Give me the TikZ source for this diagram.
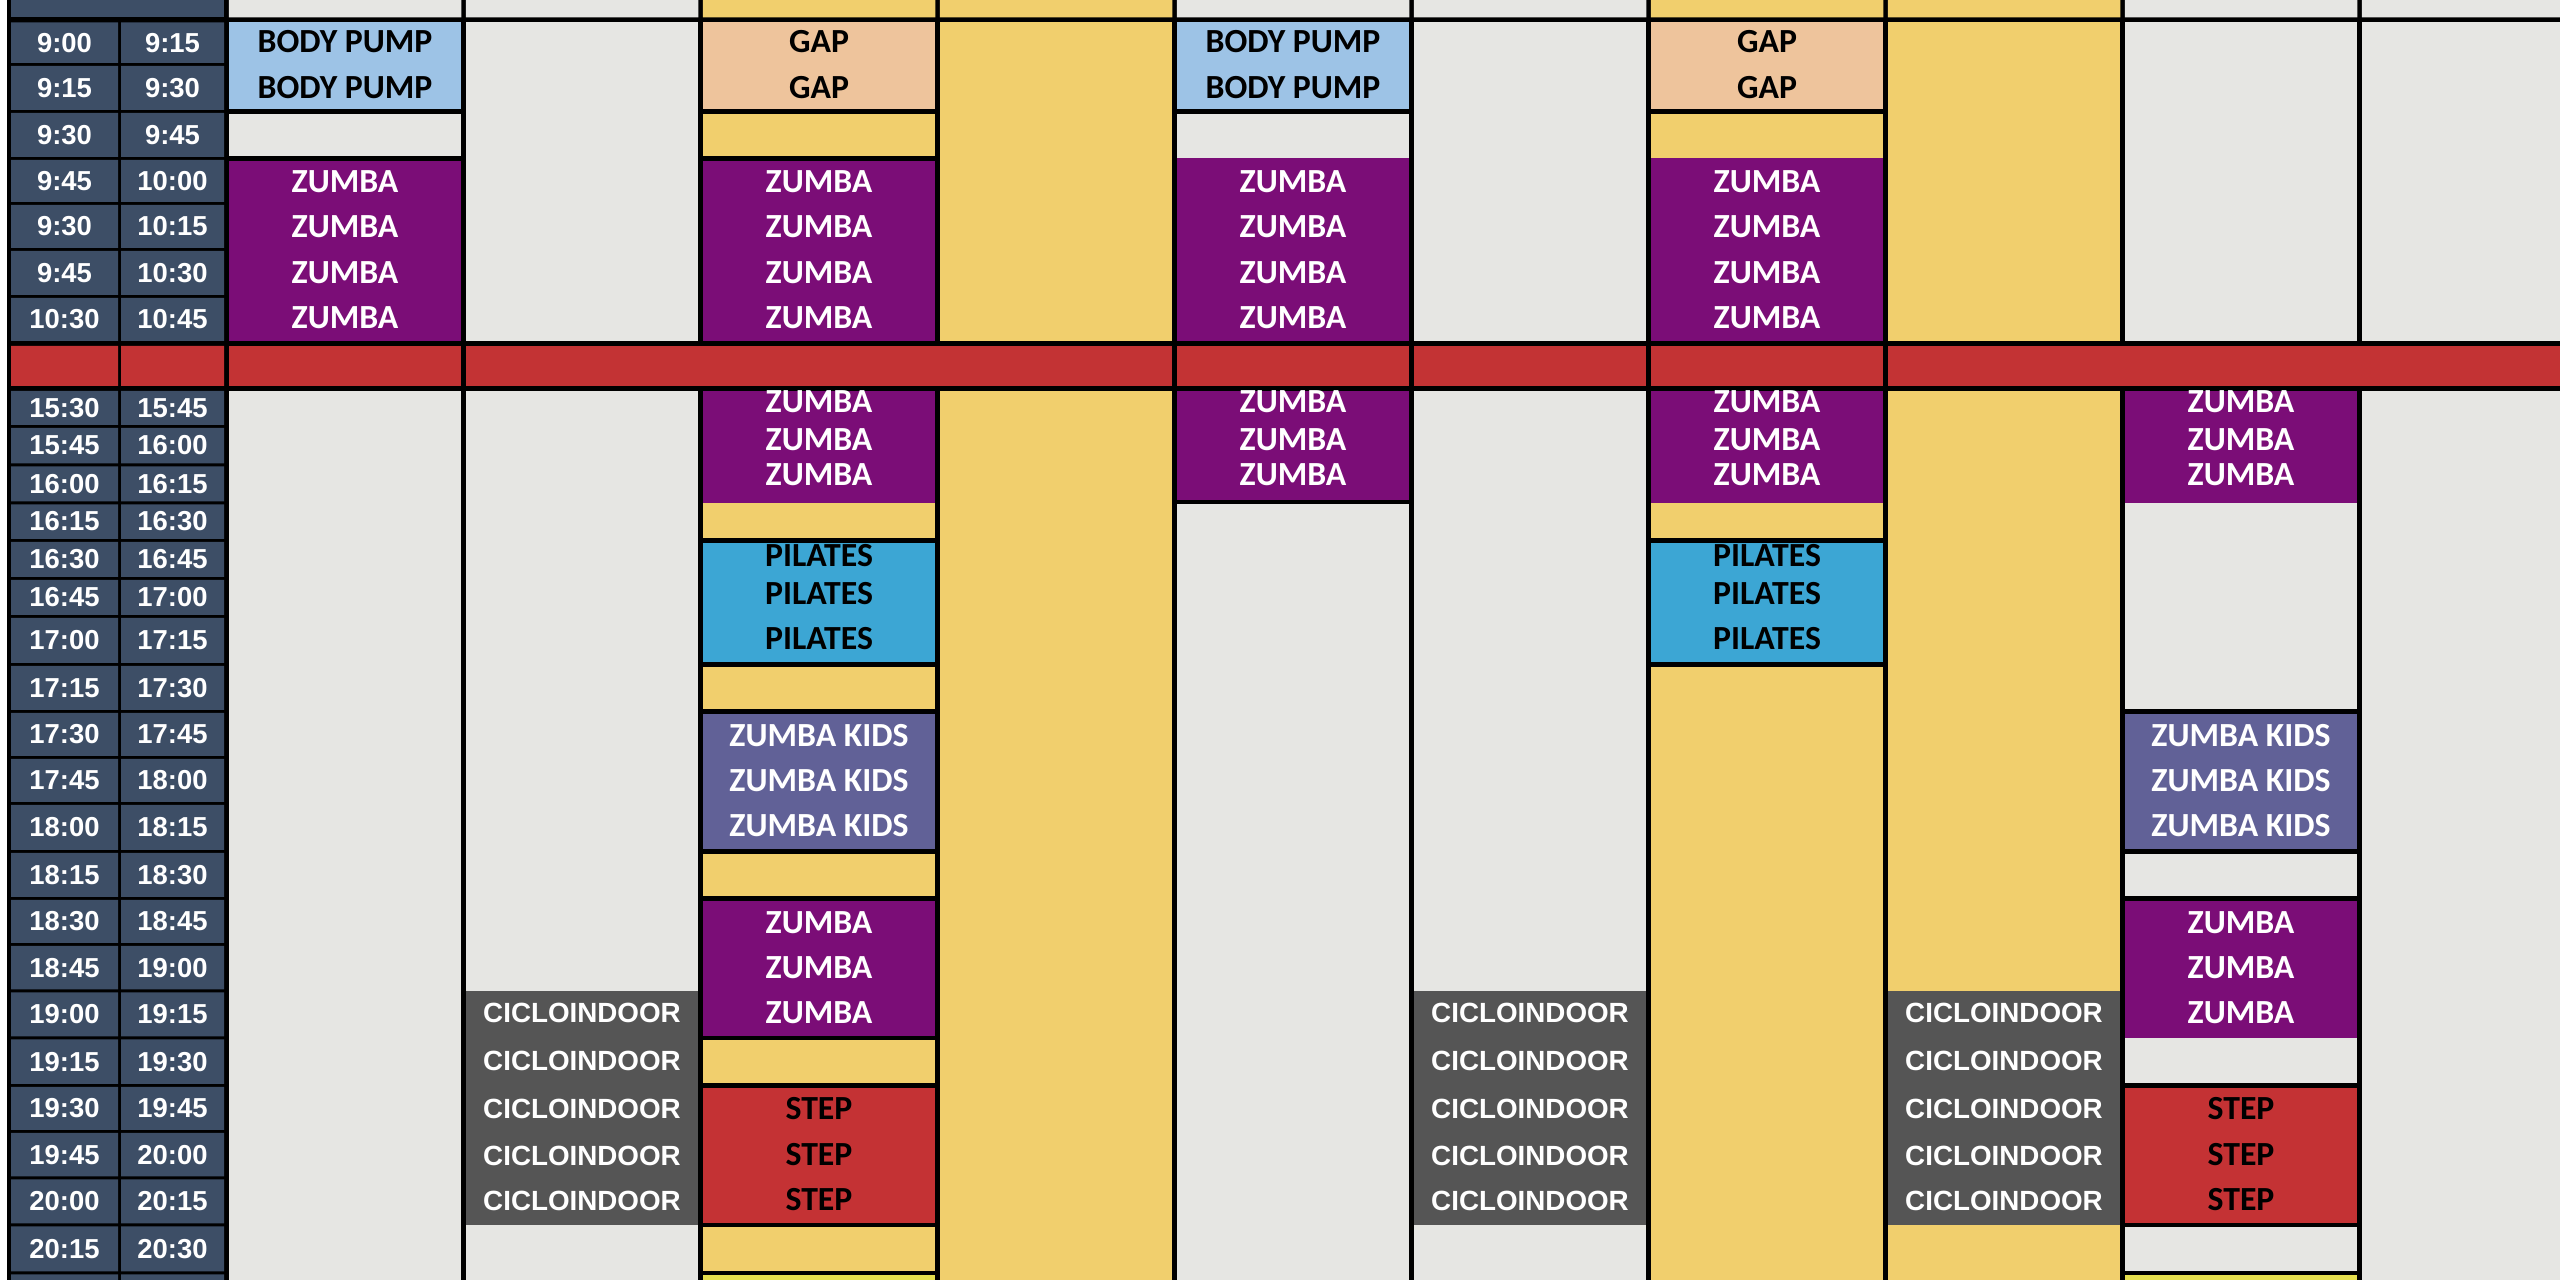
\documentclass[tikz,border=0pt]{standalone}
\usepackage{fontspec}
\setmainfont{Carlito}
\newfontfamily\hourfont{Liberation Sans}
\definecolor{hourblue}{HTML}{3D4E66}
\definecolor{roomgrey}{HTML}{E6E6E3}
\definecolor{roomyellow}{HTML}{F1CF6D}
\definecolor{zumbapurple}{HTML}{7B0D77}
\definecolor{pumpblue}{HTML}{9DC3E6}
\definecolor{gappeach}{HTML}{EEC49C}
\definecolor{pilatesblue}{HTML}{3CA6D4}
\definecolor{kidsviolet}{HTML}{616197}
\definecolor{ciclogrey}{HTML}{555555}
\definecolor{stepred}{HTML}{C43234}
\definecolor{breakred}{HTML}{C33334}
\definecolor{lastyellow}{HTML}{E6DF4E}

\begin{document}
\begin{tikzpicture}[x=0.01cm,y=-0.01cm,
    hour/.style={inner sep=0pt,text=white,font=\hourfont\bfseries\fontsize{7.8}{9}\selectfont},
    ciclo/.style={inner sep=0pt,text=white,font=\hourfont\bfseries\fontsize{7.9}{9}\selectfont},
    lesson/.style={inner sep=0pt,font=\bfseries\fontsize{9.6}{11}\selectfont},
    dark lesson/.style={lesson,text=black},
    light lesson/.style={lesson,text=white},
    sep/.style={draw=black,line width=0.045cm}]
\useasboundingbox (0,0) rectangle (2560,1280);
\fill[black] (0,0) rectangle (2560,1280);
\fill[white] (0,0) rectangle (7,1280);

\fill[hourblue] (11,0) rectangle (224,17.5);
\fill[roomgrey] (228.75,0) rectangle (461.25,17.5) (465.75,0) rectangle (698.25,17.5);
\fill[roomyellow] (702.75,0) rectangle (935.25,17.5) (939.75,0) rectangle (1172.25,17.5);
\fill[roomgrey] (1176.75,0) rectangle (1409.25,17.5) (1413.75,0) rectangle (1646.25,17.5);
\fill[roomyellow] (1650.75,0) rectangle (1883.25,17.5) (1887.75,0) rectangle (2120.25,17.5);
\fill[roomgrey] (2124.75,0) rectangle (2357.25,17.5) (2361.75,0) rectangle (2560,17.5);

\fill[hourblue] (11,22.5) rectangle (118,63) (121,22.5) rectangle (224,63);
\fill[hourblue] (11,66) rectangle (118,110) (121,66) rectangle (224,110);
\fill[hourblue] (11,113) rectangle (118,157) (121,113) rectangle (224,157);
\fill[hourblue] (11,160) rectangle (118,202) (121,160) rectangle (224,202);
\fill[hourblue] (11,205) rectangle (118,248) (121,205) rectangle (224,248);
\fill[hourblue] (11,251) rectangle (118,295) (121,251) rectangle (224,295);
\fill[hourblue] (11,298) rectangle (118,341) (121,298) rectangle (224,341);
\fill[hourblue] (11,391) rectangle (118,425) (121,391) rectangle (224,425);
\fill[hourblue] (11,428) rectangle (118,463.5) (121,428) rectangle (224,463.5);
\fill[hourblue] (11,466.5) rectangle (118,501.5) (121,466.5) rectangle (224,501.5);
\fill[hourblue] (11,504.5) rectangle (118,539) (121,504.5) rectangle (224,539);
\fill[hourblue] (11,542) rectangle (118,577) (121,542) rectangle (224,577);
\fill[hourblue] (11,580) rectangle (118,615) (121,580) rectangle (224,615);
\fill[hourblue] (11,618) rectangle (118,663) (121,618) rectangle (224,663);
\fill[hourblue] (11,666) rectangle (118,710) (121,666) rectangle (224,710);
\fill[hourblue] (11,713) rectangle (118,756) (121,713) rectangle (224,756);
\fill[hourblue] (11,759) rectangle (118,802) (121,759) rectangle (224,802);
\fill[hourblue] (11,805) rectangle (118,850) (121,805) rectangle (224,850);
\fill[hourblue] (11,853) rectangle (118,897) (121,853) rectangle (224,897);
\fill[hourblue] (11,900) rectangle (118,943) (121,900) rectangle (224,943);
\fill[hourblue] (11,946) rectangle (118,989.5) (121,946) rectangle (224,989.5);
\fill[hourblue] (11,992.5) rectangle (118,1036.5) (121,992.5) rectangle (224,1036.5);
\fill[hourblue] (11,1039.5) rectangle (118,1084) (121,1039.5) rectangle (224,1084);
\fill[hourblue] (11,1087) rectangle (118,1130) (121,1087) rectangle (224,1130);
\fill[hourblue] (11,1133) rectangle (118,1176.5) (121,1133) rectangle (224,1176.5);
\fill[hourblue] (11,1179.5) rectangle (118,1223.5) (121,1179.5) rectangle (224,1223.5);
\fill[hourblue] (11,1226.5) rectangle (118,1271.5) (121,1226.5) rectangle (224,1271.5);
\fill[hourblue] (11,1274.5) rectangle (118,1280) (121,1274.5) rectangle (224,1280);

\fill[roomgrey] (228.75,22.5) rectangle (461.25,341);
\fill[pumpblue] (228.75,22.5) rectangle (461.25,111.5);
\fill[zumbapurple] (228.75,158.5) rectangle (461.25,341);
\fill[roomgrey] (465.75,22.5) rectangle (698.25,341);
\fill[roomyellow] (702.75,22.5) rectangle (935.25,341);
\fill[gappeach] (702.75,22.5) rectangle (935.25,111.5);
\fill[zumbapurple] (702.75,158.5) rectangle (935.25,341);
\fill[roomyellow] (939.75,22.5) rectangle (1172.25,341);
\fill[roomgrey] (1176.75,22.5) rectangle (1409.25,341);
\fill[pumpblue] (1176.75,22.5) rectangle (1409.25,111.5);
\fill[zumbapurple] (1176.75,158.5) rectangle (1409.25,341);
\fill[roomgrey] (1413.75,22.5) rectangle (1646.25,341);
\fill[roomyellow] (1650.75,22.5) rectangle (1883.25,341);
\fill[gappeach] (1650.75,22.5) rectangle (1883.25,111.5);
\fill[zumbapurple] (1650.75,158.5) rectangle (1883.25,341);
\fill[roomyellow] (1887.75,22.5) rectangle (2120.25,341);
\fill[roomgrey] (2124.75,22.5) rectangle (2357.25,341);
\fill[roomgrey] (2361.75,22.5) rectangle (2560,341);

\fill[breakred] (11,346) rectangle (118,386) (121,346) rectangle (224,386);
\fill[breakred] (228.75,346) rectangle (461.25,386);
\fill[breakred] (465.75,346) rectangle (1172.25,386);
\fill[breakred] (1176.75,346) rectangle (1409.25,386);
\fill[breakred] (1413.75,346) rectangle (1646.25,386);
\fill[breakred] (1650.75,346) rectangle (1883.25,386);
\fill[breakred] (1887.75,346) rectangle (2560,386);

\fill[roomgrey] (228.75,391) rectangle (461.25,1280);
\fill[roomgrey] (465.75,391) rectangle (698.25,1280);
\fill[ciclogrey] (465.75,991) rectangle (698.25,1225);
\fill[roomyellow] (702.75,391) rectangle (935.25,1280);
\fill[zumbapurple] (702.75,391) rectangle (935.25,503);
\fill[pilatesblue] (702.75,540.5) rectangle (935.25,664.5);
\fill[kidsviolet] (702.75,711.5) rectangle (935.25,851.5);
\fill[zumbapurple] (702.75,898.5) rectangle (935.25,1038);
\fill[stepred] (702.75,1085.5) rectangle (935.25,1225);
\fill[lastyellow] (702.75,1273) rectangle (935.25,1280);
\fill[roomyellow] (939.75,391) rectangle (1172.25,1280);
\fill[roomgrey] (1176.75,391) rectangle (1409.25,1280);
\fill[zumbapurple] (1176.75,391) rectangle (1409.25,503);
\fill[roomgrey] (1413.75,391) rectangle (1646.25,1280);
\fill[ciclogrey] (1413.75,991) rectangle (1646.25,1225);
\fill[roomyellow] (1650.75,391) rectangle (1883.25,1280);
\fill[zumbapurple] (1650.75,391) rectangle (1883.25,503);
\fill[pilatesblue] (1650.75,540.5) rectangle (1883.25,664.5);
\fill[roomyellow] (1887.75,391) rectangle (2120.25,1280);
\fill[ciclogrey] (1887.75,991) rectangle (2120.25,1225);
\fill[roomgrey] (2124.75,391) rectangle (2357.25,1280);
\fill[zumbapurple] (2124.75,391) rectangle (2357.25,503);
\fill[kidsviolet] (2124.75,711.5) rectangle (2357.25,851.5);
\fill[zumbapurple] (2124.75,898.5) rectangle (2357.25,1038);
\fill[stepred] (2124.75,1085.5) rectangle (2357.25,1225);
\fill[lastyellow] (2124.75,1273) rectangle (2357.25,1280);
\fill[roomgrey] (2361.75,391) rectangle (2560,1280);

\draw[sep] (228.75,111.5) -- (461.25,111.5);
\draw[sep] (228.75,158.5) -- (461.25,158.5);
\draw[sep] (702.75,111.5) -- (935.25,111.5);
\draw[sep] (702.75,158.5) -- (935.25,158.5);
\draw[sep] (702.75,540.5) -- (935.25,540.5);
\draw[sep] (702.75,664.5) -- (935.25,664.5);
\draw[sep] (702.75,711.5) -- (935.25,711.5);
\draw[sep] (702.75,851.5) -- (935.25,851.5);
\draw[sep] (702.75,898.5) -- (935.25,898.5);
\draw[sep] (702.75,1038) -- (935.25,1038);
\draw[sep] (702.75,1085.5) -- (935.25,1085.5);
\draw[sep] (702.75,1225) -- (935.25,1225);
\draw[sep] (702.75,1273) -- (935.25,1273);
\draw[sep] (1176.75,111.5) -- (1409.25,111.5);
\draw[sep] (1176.75,502) -- (1409.25,502);
\draw[sep] (1650.75,111.5) -- (1883.25,111.5);
\draw[sep] (1650.75,540.5) -- (1883.25,540.5);
\draw[sep] (1650.75,664.5) -- (1883.25,664.5);
\draw[sep] (2124.75,711.5) -- (2357.25,711.5);
\draw[sep] (2124.75,851.5) -- (2357.25,851.5);
\draw[sep] (2124.75,898.5) -- (2357.25,898.5);
\draw[sep] (2124.75,1085.5) -- (2357.25,1085.5);
\draw[sep] (2124.75,1225) -- (2357.25,1225);
\draw[sep] (2124.75,1273) -- (2357.25,1273);

\node[hour] (from1) at (64.5,43.5) {9:00};
\node[hour] (to1) at (172.5,43.5) {9:15};
\node[hour] (from2) at (64.5,88) {9:15};
\node[hour] (to2) at (172.5,88) {9:30};
\node[hour] (from3) at (64.5,135) {9:30};
\node[hour] (to3) at (172.5,135) {9:45};
\node[hour] (from4) at (64.5,181) {9:45};
\node[hour] (to4) at (172.5,181) {10:00};
\node[hour] (from5) at (64.5,226.5) {9:30};
\node[hour] (to5) at (172.5,226.5) {10:15};
\node[hour] (from6) at (64.5,273) {9:45};
\node[hour] (to6) at (172.5,273) {10:30};
\node[hour] (from7) at (64.5,319) {10:30};
\node[hour] (to7) at (172.5,319) {10:45};
\node[hour] (from8) at (64.5,408) {15:30};
\node[hour] (to8) at (172.5,408) {15:45};
\node[hour] (from9) at (64.5,445.5) {15:45};
\node[hour] (to9) at (172.5,445.5) {16:00};
\node[hour] (from10) at (64.5,484) {16:00};
\node[hour] (to10) at (172.5,484) {16:15};
\node[hour] (from11) at (64.5,521.5) {16:15};
\node[hour] (to11) at (172.5,521.5) {16:30};
\node[hour] (from12) at (64.5,559.5) {16:30};
\node[hour] (to12) at (172.5,559.5) {16:45};
\node[hour] (from13) at (64.5,597.5) {16:45};
\node[hour] (to13) at (172.5,597.5) {17:00};
\node[hour] (from14) at (64.5,640.5) {17:00};
\node[hour] (to14) at (172.5,640.5) {17:15};
\node[hour] (from15) at (64.5,688) {17:15};
\node[hour] (to15) at (172.5,688) {17:30};
\node[hour] (from16) at (64.5,734.5) {17:30};
\node[hour] (to16) at (172.5,734.5) {17:45};
\node[hour] (from17) at (64.5,780.5) {17:45};
\node[hour] (to17) at (172.5,780.5) {18:00};
\node[hour] (from18) at (64.5,827.5) {18:00};
\node[hour] (to18) at (172.5,827.5) {18:15};
\node[hour] (from19) at (64.5,875) {18:15};
\node[hour] (to19) at (172.5,875) {18:30};
\node[hour] (from20) at (64.5,921.5) {18:30};
\node[hour] (to20) at (172.5,921.5) {18:45};
\node[hour] (from21) at (64.5,968) {18:45};
\node[hour] (to21) at (172.5,968) {19:00};
\node[hour] (from22) at (64.5,1014.5) {19:00};
\node[hour] (to22) at (172.5,1014.5) {19:15};
\node[hour] (from23) at (64.5,1062) {19:15};
\node[hour] (to23) at (172.5,1062) {19:30};
\node[hour] (from24) at (64.5,1108.5) {19:30};
\node[hour] (to24) at (172.5,1108.5) {19:45};
\node[hour] (from25) at (64.5,1155) {19:45};
\node[hour] (to25) at (172.5,1155) {20:00};
\node[hour] (from26) at (64.5,1201.5) {20:00};
\node[hour] (to26) at (172.5,1201.5) {20:15};
\node[hour] (from27) at (64.5,1249) {20:15};
\node[hour] (to27) at (172.5,1249) {20:30};

\node[dark lesson] (pumpA1) at (345,42) {BODY PUMP};
\node[dark lesson] (pumpA2) at (345,88) {BODY PUMP};
\node[light lesson] (zumbaA1) at (345,182) {ZUMBA};
\node[light lesson] (zumbaA2) at (345,226.5) {ZUMBA};
\node[light lesson] (zumbaA3) at (345,272.5) {ZUMBA};
\node[light lesson] (zumbaA4) at (345,318) {ZUMBA};

\node[ciclo] (cicloB1) at (582,1013) {CICLOINDOOR};
\node[ciclo] (cicloB2) at (582,1060.5) {CICLOINDOOR};
\node[ciclo] (cicloB3) at (582,1109) {CICLOINDOOR};
\node[ciclo] (cicloB4) at (582,1155.5) {CICLOINDOOR};
\node[ciclo] (cicloB5) at (582,1200.5) {CICLOINDOOR};

\node[dark lesson] (gapC1) at (819,42) {GAP};
\node[dark lesson] (gapC2) at (819,88) {GAP};
\node[light lesson] (zumbaC1) at (819,182) {ZUMBA};
\node[light lesson] (zumbaC2) at (819,226.5) {ZUMBA};
\node[light lesson] (zumbaC3) at (819,272.5) {ZUMBA};
\node[light lesson] (zumbaC4) at (819,318) {ZUMBA};
\node[light lesson] (zumbaC5) at (819,402) {ZUMBA};
\node[light lesson] (zumbaC6) at (819,439.5) {ZUMBA};
\node[light lesson] (zumbaC7) at (819,475) {ZUMBA};
\node[dark lesson] (pilatesC1) at (819,556) {PILATES};
\node[dark lesson] (pilatesC2) at (819,593.5) {PILATES};
\node[dark lesson] (pilatesC3) at (819,638.5) {PILATES};
\node[light lesson] (kidsC1) at (819,736) {ZUMBA KIDS};
\node[light lesson] (kidsC2) at (819,781) {ZUMBA KIDS};
\node[light lesson] (kidsC3) at (819,826) {ZUMBA KIDS};
\node[light lesson] (zumbaC8) at (819,922.5) {ZUMBA};
\node[light lesson] (zumbaC9) at (819,968) {ZUMBA};
\node[light lesson] (zumbaC10) at (819,1013) {ZUMBA};
\node[dark lesson] (stepC1) at (819,1109) {STEP};
\node[dark lesson] (stepC2) at (819,1154.5) {STEP};
\node[dark lesson] (stepC3) at (819,1199.5) {STEP};

\node[dark lesson] (pumpE1) at (1293,42) {BODY PUMP};
\node[dark lesson] (pumpE2) at (1293,88) {BODY PUMP};
\node[light lesson] (zumbaE1) at (1293,182) {ZUMBA};
\node[light lesson] (zumbaE2) at (1293,226.5) {ZUMBA};
\node[light lesson] (zumbaE3) at (1293,272.5) {ZUMBA};
\node[light lesson] (zumbaE4) at (1293,318) {ZUMBA};
\node[light lesson] (zumbaE5) at (1293,402) {ZUMBA};
\node[light lesson] (zumbaE6) at (1293,439.5) {ZUMBA};
\node[light lesson] (zumbaE7) at (1293,475) {ZUMBA};

\node[ciclo] (cicloF1) at (1530,1013) {CICLOINDOOR};
\node[ciclo] (cicloF2) at (1530,1060.5) {CICLOINDOOR};
\node[ciclo] (cicloF3) at (1530,1109) {CICLOINDOOR};
\node[ciclo] (cicloF4) at (1530,1155.5) {CICLOINDOOR};
\node[ciclo] (cicloF5) at (1530,1200.5) {CICLOINDOOR};

\node[dark lesson] (gapG1) at (1767,42) {GAP};
\node[dark lesson] (gapG2) at (1767,88) {GAP};
\node[light lesson] (zumbaG1) at (1767,182) {ZUMBA};
\node[light lesson] (zumbaG2) at (1767,226.5) {ZUMBA};
\node[light lesson] (zumbaG3) at (1767,272.5) {ZUMBA};
\node[light lesson] (zumbaG4) at (1767,318) {ZUMBA};
\node[light lesson] (zumbaG5) at (1767,402) {ZUMBA};
\node[light lesson] (zumbaG6) at (1767,439.5) {ZUMBA};
\node[light lesson] (zumbaG7) at (1767,475) {ZUMBA};
\node[dark lesson] (pilatesG1) at (1767,556) {PILATES};
\node[dark lesson] (pilatesG2) at (1767,593.5) {PILATES};
\node[dark lesson] (pilatesG3) at (1767,638.5) {PILATES};

\node[ciclo] (cicloH1) at (2004,1013) {CICLOINDOOR};
\node[ciclo] (cicloH2) at (2004,1060.5) {CICLOINDOOR};
\node[ciclo] (cicloH3) at (2004,1109) {CICLOINDOOR};
\node[ciclo] (cicloH4) at (2004,1155.5) {CICLOINDOOR};
\node[ciclo] (cicloH5) at (2004,1200.5) {CICLOINDOOR};

\node[light lesson] (zumbaI1) at (2241,402) {ZUMBA};
\node[light lesson] (zumbaI2) at (2241,439.5) {ZUMBA};
\node[light lesson] (zumbaI3) at (2241,475) {ZUMBA};
\node[light lesson] (kidsI1) at (2241,736) {ZUMBA KIDS};
\node[light lesson] (kidsI2) at (2241,781) {ZUMBA KIDS};
\node[light lesson] (kidsI3) at (2241,826) {ZUMBA KIDS};
\node[light lesson] (zumbaI4) at (2241,922.5) {ZUMBA};
\node[light lesson] (zumbaI5) at (2241,968) {ZUMBA};
\node[light lesson] (zumbaI6) at (2241,1013) {ZUMBA};
\node[dark lesson] (stepI1) at (2241,1109) {STEP};
\node[dark lesson] (stepI2) at (2241,1154.5) {STEP};
\node[dark lesson] (stepI3) at (2241,1199.5) {STEP};
\end{tikzpicture}
\end{document}
